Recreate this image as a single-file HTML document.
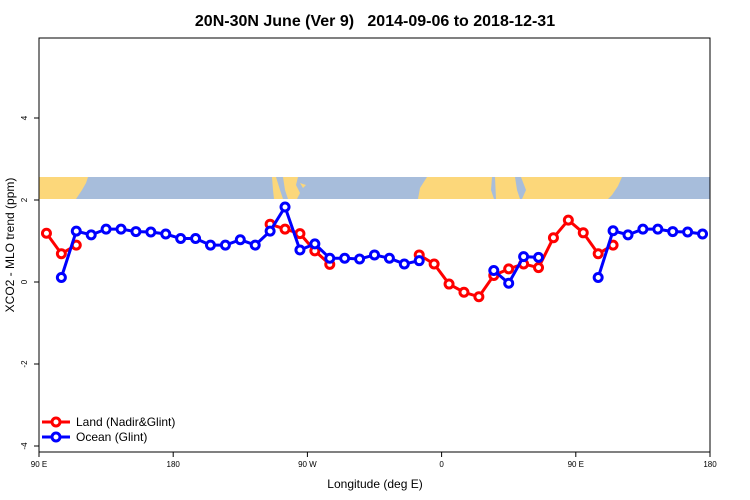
<!DOCTYPE html>
<html><head><meta charset="utf-8"><style>
body{margin:0;background:#fff}
svg{display:block;font-family:"Liberation Sans",sans-serif}
</style></head><body>
<svg id="chart" width="750" height="500" viewBox="0 0 750 500">
<text x="375" y="26" text-anchor="middle" font-size="16" font-weight="bold">20N-30N June (Ver 9)&#160;&#160; 2014-09-06 to 2018-12-31</text>
<g id="map">
<rect x="39" y="177" width="671" height="22" fill="#a7bddb"/>
<path d="M39 177H88L86 183L82 190L78 196L76 199H39Z" fill="#fcd77a"/>
<path d="M272 177H276L280 190L283 199H274L273 190Z" fill="#fcd77a"/>
<path d="M283 177H298L296 185L300 193L297 199H288L285 190Z" fill="#fcd77a"/>
<path d="M300 183L306 185L303 188Z" fill="#fcd77a"/>
<path d="M427 177H492L491 190L494 199H418L420 188Z" fill="#fcd77a"/>
<path d="M495 177H515L517 190L520 199H496Z" fill="#fcd77a"/>
<path d="M521 177H622L618 186L612 195L608 199H522L526 190Z" fill="#fcd77a"/>
</g>
<rect x="39" y="38" width="671" height="414" fill="none" stroke="#000"/>
<g id="axes"></g>
<g id="series"></g>
<g>
<g>
<line x1="42" y1="422" x2="70" y2="422" stroke="#f00" stroke-width="3"/><circle cx="56" cy="422" r="4" fill="#fff" stroke="#f00" stroke-width="3"/>
<text x="76" y="426" font-size="12">Land (Nadir&amp;Glint)</text></g>
<g>
<line x1="42" y1="437" x2="70" y2="437" stroke="#00f" stroke-width="3"/><circle cx="56" cy="437" r="4" fill="#fff" stroke="#00f" stroke-width="3"/>
<text x="76" y="441" font-size="12">Ocean (Glint)</text></g>
</g>
<text x="375" y="488" text-anchor="middle" font-size="12">Longitude (deg E)</text>
<text transform="translate(14,245) rotate(-90)" text-anchor="middle" font-size="12">XCO2 - MLO trend (ppm)</text>
</svg>
<script>
const xTickVals=[90,180,270,360,450,540];
const xTickLabels=["90 E","180","90 W","0","90 E","180"];
const yTickVals=[-4,-2,0,2,4];
const landLon=[95,105,115,245,255,265,275,285,345,355,365,375,385,395,405,415,425,435,445,455,465,475];
const landVal=[1.19,0.69,0.90,1.41,1.29,1.18,0.76,0.43,0.66,0.44,-0.05,-0.25,-0.36,0.16,0.32,0.44,0.35,1.08,1.51,1.20,0.69,0.90];
const oceanLon=[105,115,125,135,145,155,165,175,185,195,205,215,225,235,245,255,265,275,285,295,305,315,325,335,345,395,405,415,425,465,475,485,495,505,515,525,535];
const oceanVal=[0.11,1.24,1.15,1.29,1.29,1.23,1.22,1.17,1.06,1.06,0.90,0.90,1.03,0.90,1.24,1.83,0.78,0.93,0.58,0.58,0.56,0.66,0.58,0.44,0.52,0.28,-0.03,0.62,0.60,0.11,1.25,1.15,1.29,1.29,1.23,1.22,1.17];
const NS='http://www.w3.org/2000/svg';
const X=l=>39+(l-90)*671/450;
const Y=v=>282-v*41;
function mk(t,a,p){const e=document.createElementNS(NS,t);for(const k in a)e.setAttribute(k,a[k]);p.appendChild(e);return e;}
const ax=document.getElementById('axes');
xTickVals.forEach((v,i)=>{
 const t=mk('line',{x1:X(v),x2:X(v),y1:452,y2:457,stroke:'#000'},ax);
 
 
 const l=mk('text',{x:X(v),y:467,'text-anchor':'middle','font-size':8},ax);l.textContent=xTickLabels[i];
 
 
});
yTickVals.forEach(v=>{
 const t=mk('line',{x1:34,x2:39,y1:Y(v),y2:Y(v),stroke:'#000'},ax);
 
 
 const l=mk('text',{transform:`translate(27,${Y(v)}) rotate(-90)`,'text-anchor':'middle','font-size':8},ax);l.textContent=v;
 
 
});
const sg=document.getElementById('series');
function series(lons,vals,col,name){
 const g=mk('g',{},sg);
 
 
 let seg=[];const segs=[];
 lons.forEach((l,i)=>{if(i>0&&l-lons[i-1]>10){segs.push(seg);seg=[];}seg.push([X(l),Y(vals[i])]);});
 segs.push(seg);
 segs.forEach(s=>{const p=mk('polyline',{points:s.map(q=>q.join(',')).join(' '),fill:'none',stroke:col,'stroke-width':3},g);
  
  });
 lons.forEach((l,i)=>{const c=mk('circle',{cx:X(l),cy:Y(vals[i]),r:4,fill:'#fff',stroke:col,'stroke-width':3},g);
  
  });
}
series(landLon,landVal,'#f00','land');
series(oceanLon,oceanVal,'#00f','ocean');
</script>
</body></html>
